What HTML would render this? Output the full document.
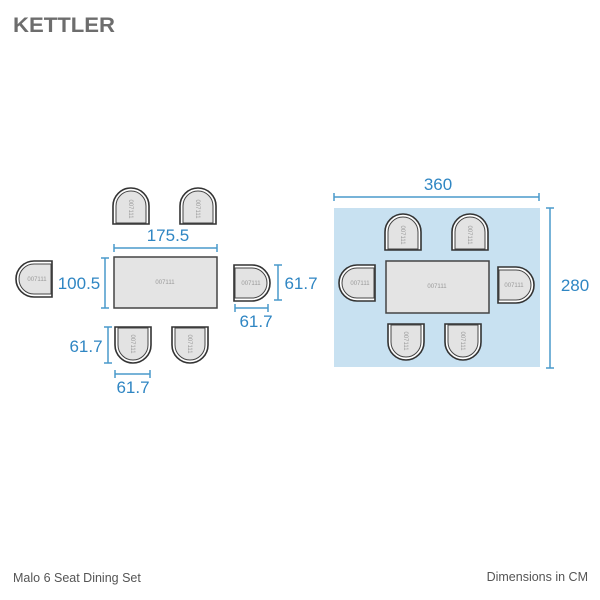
<!DOCTYPE html>
<html><head><meta charset="utf-8"><style>
html,body{margin:0;padding:0;background:#fff}
svg{display:block}
</style></head><body>
<svg width="600" height="600" viewBox="0 0 600 600" xmlns="http://www.w3.org/2000/svg" font-family="Liberation Sans, sans-serif">
<defs>
<g id="ch">
<path d="M0,36 V18 A18,18 0 0 1 36,18 V36 Z" fill="#fff" stroke="#333" stroke-width="1.6"/>
<path d="M3,35 V18 A15,15 0 0 1 33,18 V35 Z" fill="#e3e3e3" stroke="#444" stroke-width="1"/>
</g>
</defs>
<rect width="600" height="600" fill="#fff"/>
<text x="13" y="32" font-size="21" font-weight="bold" fill="#6d6d6d" textLength="102" lengthAdjust="spacingAndGlyphs">KETTLER</text>

<g fill="#999" font-size="6" text-anchor="middle">
<g transform="translate(113,188)"><use href="#ch"/><text transform="translate(18,21) rotate(90)" x="0" y="2">007111</text></g>
<g transform="translate(180,188)"><use href="#ch"/><text transform="translate(18,21) rotate(90)" x="0" y="2">007111</text></g>
<g transform="translate(16,261) rotate(-90 18 18)"><use href="#ch"/></g>
<text x="37" y="281">007111</text>
<g transform="translate(234,265) rotate(90 18 18)"><use href="#ch"/></g>
<text x="251" y="285">007111</text>
<g transform="translate(115,327) rotate(180 18 18)"><use href="#ch"/></g>
<text transform="translate(133,344) rotate(90)" y="2">007111</text>
<g transform="translate(172,327) rotate(180 18 18)"><use href="#ch"/></g>
<text transform="translate(190,344) rotate(90)" y="2">007111</text>
<rect x="114" y="257" width="103" height="51" fill="#e4e4e4" stroke="#444" stroke-width="1.5"/>
<text x="165" y="284">007111</text>
</g>

<g stroke="#4a9acb" stroke-width="1.5" fill="none">
<path d="M114,248 H217 M114,244 V252 M217,244 V252"/>
<path d="M105,258 V308 M101,258 H109 M101,308 H109"/>
<path d="M278,265 V300 M274,265 H282 M274,300 H282"/>
<path d="M235,308 H268 M235,304 V312 M268,304 V312"/>
<path d="M108,327 V363 M104,327 H112 M104,363 H112"/>
<path d="M115,374 H150 M115,370 V378 M150,370 V378"/>
</g>
<g fill="#2f86c3" font-size="17" text-anchor="middle">
<text x="168" y="241">175.5</text>
<text x="79" y="289">100.5</text>
<text x="301" y="289">61.7</text>
<text x="256" y="327">61.7</text>
<text x="86" y="352">61.7</text>
<text x="133" y="393">61.7</text>
</g>

<rect x="334" y="208" width="206" height="159" fill="#c8e1f1"/>
<g fill="#999" font-size="6" text-anchor="middle">
<g transform="translate(385,214)"><use href="#ch"/><text transform="translate(18,21) rotate(90)" y="2">007111</text></g>
<g transform="translate(452,214)"><use href="#ch"/><text transform="translate(18,21) rotate(90)" y="2">007111</text></g>
<g transform="translate(339,265) rotate(-90 18 18)"><use href="#ch"/></g>
<text x="360" y="285">007111</text>
<g transform="translate(498,267) rotate(90 18 18)"><use href="#ch"/></g>
<text x="514" y="287">007111</text>
<g transform="translate(388,324) rotate(180 18 18)"><use href="#ch"/></g>
<text transform="translate(406,341) rotate(90)" y="2">007111</text>
<g transform="translate(445,324) rotate(180 18 18)"><use href="#ch"/></g>
<text transform="translate(463,341) rotate(90)" y="2">007111</text>
<rect x="386" y="261" width="103" height="52" fill="#e4e4e4" stroke="#444" stroke-width="1.5"/>
<text x="437" y="288">007111</text>
</g>
<g stroke="#4a9acb" stroke-width="1.5" fill="none">
<path d="M334,197 H539 M334,193 V201 M539,193 V201"/>
<path d="M550,208 V368 M546,208 H554 M546,368 H554"/>
</g>
<g fill="#2f86c3" font-size="17" text-anchor="middle">
<text x="438" y="190">360</text>
<text x="575" y="291">280</text>
</g>

<g fill="#555" font-size="12.5">
<text x="13" y="582">Malo 6 Seat Dining Set</text>
<text x="588" y="581" text-anchor="end">Dimensions in CM</text>
</g>
</svg>
</body></html>
